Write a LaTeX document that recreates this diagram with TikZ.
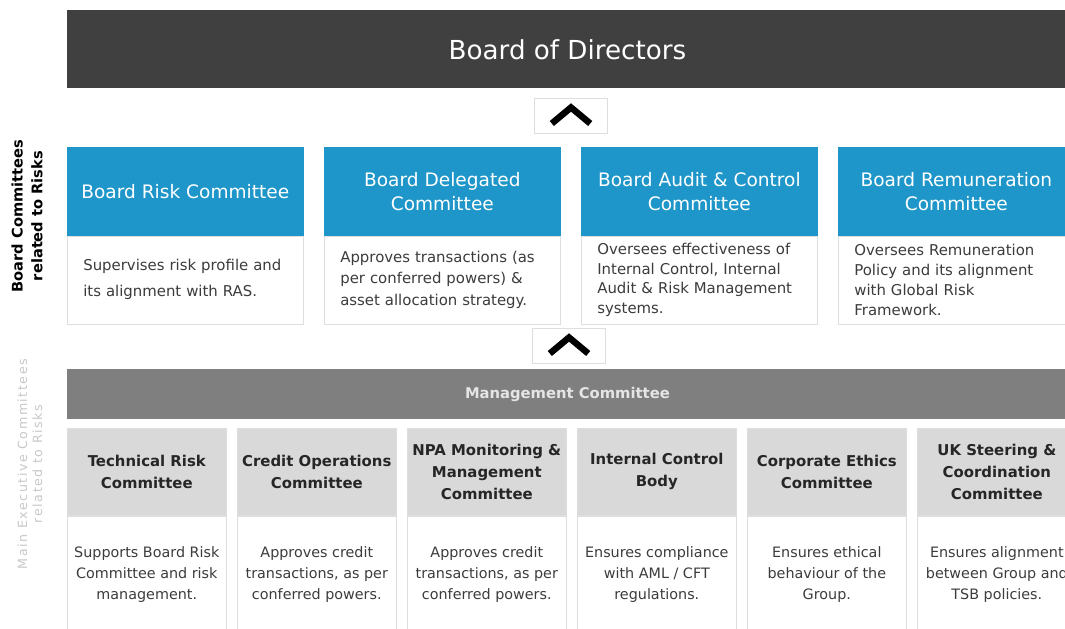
\documentclass[tikz,border=0pt]{standalone}
\usepackage{fontspec}
\setmainfont{DejaVu Sans}
\usepackage{tikz}
\usetikzlibrary{positioning}
\definecolor{boardgray}{RGB}{64, 64, 64}
\definecolor{riskblue}{RGB}{30, 150, 201}
\definecolor{mgmtgray}{RGB}{127, 127, 127}
\definecolor{headgray}{RGB}{217, 217, 217}
\definecolor{edgegray}{RGB}{222, 222, 222}
\definecolor{textgray}{RGB}{60, 60, 60}
\definecolor{labelgray}{RGB}{200, 200, 200}

\begin{document}
\begin{tikzpicture}[
    x=0.025cm, y=-0.025cm,
    bar/.style={anchor=north west, minimum width=25cm, inner sep=0pt},
    board/.style={bar, fill=boardgray, minimum height=1.95cm, text=white, font=\fontsize{18.6}{22}\selectfont},
    mgmt/.style={bar, fill=mgmtgray, minimum height=1.25cm, text=white!90!black, font=\bfseries\fontsize{10.5}{12}\selectfont},
    chevbox/.style={draw=edgegray, minimum width=1.825cm, minimum height=0.875cm},
    chevron/.style={line width=4.6pt, black, line join=miter},
    bluehead/.style={draw=riskblue, fill=riskblue, minimum width=5.9cm, minimum height=2.2cm, text=white, align=center, font=\fontsize{13.2}{17}\selectfont},
    bluebody/.style={draw=edgegray, fill=white, minimum width=5.9cm, minimum height=2.2cm, text width=5.1cm, align=left, text=textgray, font=\fontsize{10.6}{14.2}\selectfont},
    grayhead/.style={draw=edgegray, fill=headgray, minimum width=3.975cm, minimum height=2.175cm, inner xsep=1pt, align=center, text=black!85, font=\bfseries\fontsize{10.6}{15.6}\selectfont},
    graybody/.style={draw=edgegray, fill=white, minimum width=3.975cm, minimum height=2.95cm, inner xsep=1pt, align=center, text=textgray, font=\fontsize{10.2}{15}\selectfont},
    sidelabel/.style={rotate=90, align=center}
]
    \useasboundingbox (0,0) rectangle (1065,629);
    \clip (0,0) rectangle (1065,629);

    % Board
    \node[board] (board) at (67,10) {Board of Directors};
    \node[chevbox] (up1) at (571,115.5) {};
    \draw[chevron] ([xshift=-0.48cm, yshift=-0.2cm]up1.center) -- ([yshift=0.2cm]up1.center) -- ([xshift=0.48cm, yshift=-0.2cm]up1.center);

    % Board committees
    \node[sidelabel, font=\bfseries\fontsize{10.4}{14}\selectfont] (boardlbl) at (27,216) {Board Committees\\related to Risks};
    \node[bluehead, anchor=north west] (brc) at (67,147) {Board Risk Committee};
    \node[bluehead, right=0.51cm of brc] (bdc) {Board Delegated\\Committee};
    \node[bluehead, right=0.51cm of bdc] (bacc) {Board Audit \& Control\\Committee};
    \node[bluehead, right=0.51cm of bacc] (brem) {Board Remuneration\\Committee};
    \node[bluebody, below=0pt of brc] (brcd) {Supervises risk profile and\\[4.3pt]its alignment with RAS.};
    \node[bluebody, below=0pt of bdc] (bdcd) {Approves transactions (as\\[1.4pt]per conferred powers) \&\\[1.4pt]asset allocation strategy.};
    \node[bluebody, below=0pt of bacc] (baccd) {Oversees effectiveness of\\Internal Control, Internal\\Audit \& Risk Management\\systems.};
    \node[bluebody, below=0pt of brem] (bremd) {Oversees Remuneration\\Policy and its alignment\\with Global Risk\\Framework.};

    % Management
    \node[chevbox] (up2) at (569,345.5) {};
    \draw[chevron] ([xshift=-0.48cm, yshift=-0.2cm]up2.center) -- ([yshift=0.2cm]up2.center) -- ([xshift=0.48cm, yshift=-0.2cm]up2.center);
    \node[mgmt] (mgmt) at (67,369) {Management Committee};

    % Executive committees
    \node[sidelabel, text=labelgray, font=\fontsize{9}{10.7}\selectfont\addfontfeature{LetterSpace=12}] (execlbl) at (30,464) {Main Executive Committees\\related to Risks};
    \node[grayhead, anchor=north west] (trc) at (67,428) {Technical Risk\\Committee};
    \node[grayhead, right=0.26cm of trc] (coc) {Credit Operations\\Committee};
    \node[grayhead, right=0.26cm of coc] (npa) {NPA Monitoring \&\\Management\\Committee};
    \node[grayhead, right=0.26cm of npa] (icb) {Internal Control\\Body};
    \node[grayhead, right=0.26cm of icb] (cec) {Corporate Ethics\\Committee};
    \node[grayhead, right=0.26cm of cec] (uksc) {UK Steering \&\\Coordination\\Committee};
    \node[graybody, below=0pt of trc] (trcd) {Supports Board Risk\\Committee and risk\\management.};
    \node[graybody, below=0pt of coc] (cocd) {Approves credit\\transactions, as per\\conferred powers.};
    \node[graybody, below=0pt of npa] (npad) {Approves credit\\transactions, as per\\conferred powers.};
    \node[graybody, below=0pt of icb] (icbd) {Ensures compliance\\with AML / CFT\\regulations.};
    \node[graybody, below=0pt of cec] (cecd) {Ensures ethical\\behaviour of the\\Group.};
    \node[graybody, below=0pt of uksc] (ukscd) {Ensures alignment\\between Group and\\TSB policies.};
\end{tikzpicture}
\end{document}
